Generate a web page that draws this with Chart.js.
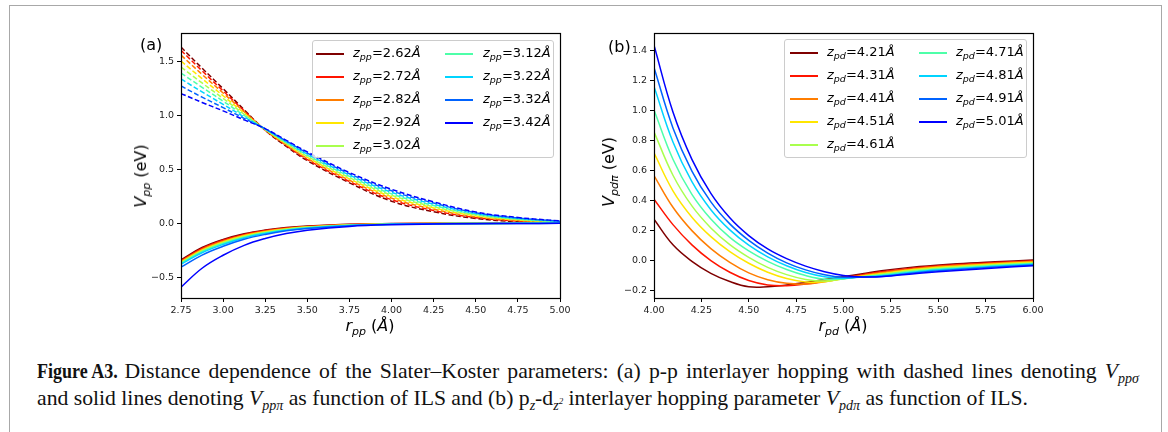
<!DOCTYPE html>
<html><head><meta charset="utf-8">
<script src="https://cdn.jsdelivr.net/npm/chart.js@4/dist/chart.umd.min.js"></script>
<style>
html,body{margin:0;padding:0;background:#fff;}
body{width:1168px;height:432px;position:relative;overflow:hidden;font-family:'DejaVu Sans',sans-serif;}
#frame{position:absolute;left:9px;top:5px;width:1153px;height:460px;border:1.5px solid #a8a8a8;box-sizing:border-box;}
.cv{position:absolute;}
.lab{position:absolute;font-size:16px;color:#000;white-space:nowrap;line-height:1;}
.lab i{font-style:italic;}
.sb{font-size:11px;position:relative;top:4px;font-style:italic;}
.legend{position:absolute;border:1px solid #cccccc;border-radius:3px;background:rgba(255,255,255,0.8);box-sizing:border-box;}
.item{position:absolute;height:16px;font-size:13px;white-space:nowrap;line-height:16px;color:#000;}
.item .s2{font-size:9.5px;position:relative;top:3px;font-style:italic;}
.sw{position:absolute;height:2px;width:28px;}
#cap{position:absolute;left:37px;top:360px;width:1102px;font-family:'Liberation Serif',serif;font-size:21.7px;line-height:22px;color:#111;}
#cap .l1{display:block;white-space:nowrap;text-align:justify;text-align-last:justify;}
#cap .l2{display:block;white-space:nowrap;}
#cap .cs{font-size:14px;position:relative;top:5px;font-style:italic;}
#cap .fb{display:inline-block;transform:scaleX(0.83);transform-origin:left center;margin-right:-18px;font-weight:bold;}
</style>
</head>
<body>
<div id="frame"></div>
<canvas id="c1" class="cv" width="470" height="330" style="left:110px;top:20px;width:470px;height:330px;"></canvas>
<canvas id="c2" class="cv" width="460" height="330" style="left:590px;top:20px;width:460px;height:330px;"></canvas>
<div id="overlay"></div>
<div id="cap"><span class="l1"><span class="fb">Figure A3.</span> Distance dependence of the Slater–Koster parameters: (a) p-p interlayer hopping with dashed lines denoting <i>V</i><span class="cs">ppσ</span></span><span class="l2">and solid lines denoting <i>V</i><span class="cs">ppπ</span> as function of ILS and (b) p<span class="cs">z</span>-d<span class="cs">z<sup style="font-size:9px">2</sup></span> interlayer hopping parameter <i>V</i><span class="cs">pdπ</span> as function of ILS.</span></div>
<script>
// ---------- data ----------
const colors = ['#7f0000','#ff1400','#ff7d00','#ffe600','#a9ff4d','#4dffa9','#00d4ff','#0063ff','#0000ff'];
const zppLabels = ['2.62','2.72','2.82','2.92','3.02','3.12','3.22','3.32','3.42'];
const zpdLabels = ['4.21','4.31','4.41','4.51','4.61','4.71','4.81','4.91','5.01'];

const rPP = [2.75, 2.875, 3.0, 3.125, 3.25, 3.375, 3.5, 3.75, 4.0, 4.25, 4.5, 4.75, 5.0];
const vppSigma = [
  [1.63, 1.435, 1.245, 1.050, 0.860, 0.712, 0.58, 0.375, 0.205, 0.107, 0.045, 0.016, 0.005],
  [1.60, 1.410, 1.225, 1.040, 0.862, 0.719, 0.59, 0.387, 0.219, 0.119, 0.053, 0.021, 0.007],
  [1.555, 1.377, 1.205, 1.032, 0.864, 0.726, 0.60, 0.399, 0.233, 0.131, 0.061, 0.026, 0.009],
  [1.50, 1.338, 1.180, 1.020, 0.866, 0.733, 0.61, 0.411, 0.247, 0.143, 0.069, 0.031, 0.011],
  [1.445, 1.298, 1.155, 1.009, 0.868, 0.740, 0.62, 0.423, 0.260, 0.154, 0.077, 0.036, 0.013],
  [1.39, 1.258, 1.130, 0.998, 0.870, 0.747, 0.63, 0.435, 0.273, 0.165, 0.084, 0.040, 0.015],
  [1.335, 1.215, 1.100, 0.984, 0.872, 0.754, 0.64, 0.447, 0.287, 0.177, 0.091, 0.045, 0.018],
  [1.27, 1.167, 1.070, 0.970, 0.874, 0.761, 0.65, 0.459, 0.301, 0.188, 0.098, 0.050, 0.020],
  [1.20, 1.118, 1.040, 0.957, 0.876, 0.768, 0.66, 0.470, 0.315, 0.199, 0.105, 0.054, 0.023]
];
const vppPi = [
  [-0.337, -0.223, -0.148, -0.096, -0.062, -0.039, -0.025, -0.008, -0.002, 0, 0, 0, 0],
  [-0.345, -0.232, -0.156, -0.102, -0.067, -0.043, -0.028, -0.010, -0.003, -0.001, 0, 0, 0],
  [-0.352, -0.240, -0.164, -0.109, -0.072, -0.047, -0.031, -0.012, -0.004, -0.001, 0, 0, 0],
  [-0.358, -0.248, -0.171, -0.115, -0.077, -0.051, -0.034, -0.014, -0.005, -0.002, -0.001, 0, 0],
  [-0.364, -0.255, -0.178, -0.121, -0.082, -0.055, -0.037, -0.016, -0.006, -0.002, -0.001, 0, 0],
  [-0.370, -0.262, -0.186, -0.128, -0.088, -0.059, -0.040, -0.018, -0.007, -0.003, -0.001, 0, 0],
  [-0.378, -0.272, -0.195, -0.135, -0.094, -0.064, -0.043, -0.019, -0.008, -0.003, -0.001, 0, 0],
  [-0.405, -0.293, -0.212, -0.147, -0.102, -0.069, -0.047, -0.021, -0.009, -0.004, -0.002, -0.001, 0],
  [-0.590, -0.415, -0.295, -0.203, -0.140, -0.094, -0.063, -0.028, -0.012, -0.006, -0.003, -0.001, 0]
];

const rPD = [4.0, 4.1, 4.2, 4.3, 4.4, 4.5, 4.6, 4.7, 4.8, 4.9, 5.0, 5.1, 5.2, 5.4, 5.6, 5.8, 6.0];
const vpdPi = [
  [0.276, 0.105, -0.005, -0.085, -0.140, -0.175, -0.175, -0.163, -0.146, -0.127, -0.107, -0.088, -0.068, -0.040, -0.021, -0.008, 0.003],
  [0.410, 0.240, 0.105, 0.000, -0.078, -0.133, -0.163, -0.168, -0.157, -0.137, -0.113, -0.094, -0.075, -0.046, -0.027, -0.013, -0.002],
  [0.568, 0.356, 0.200, 0.080, -0.012, -0.082, -0.128, -0.152, -0.157, -0.142, -0.118, -0.099, -0.081, -0.051, -0.032, -0.018, -0.006],
  [0.719, 0.466, 0.290, 0.160, 0.060, -0.018, -0.078, -0.120, -0.143, -0.142, -0.121, -0.103, -0.087, -0.057, -0.038, -0.023, -0.011],
  [0.860, 0.570, 0.365, 0.218, 0.107, 0.022, -0.045, -0.094, -0.126, -0.137, -0.122, -0.106, -0.092, -0.062, -0.043, -0.028, -0.016],
  [1.006, 0.677, 0.442, 0.277, 0.155, 0.065, -0.005, -0.060, -0.100, -0.124, -0.121, -0.108, -0.097, -0.068, -0.049, -0.033, -0.020],
  [1.163, 0.792, 0.527, 0.340, 0.205, 0.103, 0.025, -0.035, -0.080, -0.108, -0.119, -0.109, -0.101, -0.073, -0.054, -0.038, -0.025],
  [1.290, 0.886, 0.597, 0.392, 0.245, 0.135, 0.050, -0.015, -0.062, -0.095, -0.112, -0.110, -0.105, -0.079, -0.060, -0.043, -0.029],
  [1.438, 0.992, 0.676, 0.449, 0.286, 0.167, 0.078, 0.013, -0.037, -0.074, -0.099, -0.109, -0.108, -0.085, -0.066, -0.049, -0.034]
];

const xTicksA = [2.75, 3.0, 3.25, 3.5, 3.75, 4.0, 4.25, 4.5, 4.75, 5.0];
const yTicksA = [-0.5, 0.0, 0.5, 1.0, 1.5];
const xTicksB = [4.0, 4.25, 4.5, 4.75, 5.0, 5.25, 5.5, 5.75, 6.0];
const yTicksB = [-0.2, 0.0, 0.2, 0.4, 0.6, 0.8, 1.0, 1.2, 1.4];

// ---------- helpers ----------
Chart.defaults.font.family = "'DejaVu Sans', sans-serif";
Chart.defaults.color = '#222';

function fmt(v, d){ return v.toFixed(d).replace('-', '\u2212'); }

const framePlugin = {
  id: 'frame',
  afterDraw(chart){
    const a = chart.chartArea, c = chart.ctx;
    c.save(); c.strokeStyle = '#000'; c.lineWidth = 1.2;
    c.strokeRect(Math.round(a.left)+0.5, Math.round(a.top)+0.5, Math.round(a.right-a.left), Math.round(a.bottom-a.top));
    c.restore();
  }
};

function axis(ticks, dec, min, max, isX, size){
  return {
    type: 'linear', min: min, max: max,
    afterBuildTicks: s => { s.ticks = ticks.map(v => ({value: v})); },
    afterFit: s => { if (isX) s.height = size; else s.width = size; },
    ticks: { font: {size: 9.5}, color: '#222', padding: 3, maxRotation: 0, autoSkip: false,
             callback: v => fmt(v, dec) },
    grid: { display: true, drawOnChartArea: false, drawTicks: true, tickLength: 4, tickWidth: 1, color: '#000' },
    border: { display: true, color: '#000', width: 1 }
  };
}

function pts(xs, ys){ return xs.map((x, i) => ({x: x, y: ys[i]})); }

// ---------- panel (a) ----------
const dsA = [];
for (let i = 0; i < 9; i++) {
  dsA.push({ data: pts(rPP, vppSigma[i]), borderColor: colors[i], borderWidth: 1.5, borderDash: [5, 2.5],
             pointRadius: 0, tension: 0.4, fill: false, order: 20 - i });
  dsA.push({ data: pts(rPP, vppPi[i]), borderColor: colors[i], borderWidth: 1.5,
             pointRadius: 0, tension: 0.4, fill: false, order: 20 - i });
}
new Chart(document.getElementById('c1'), {
  type: 'line',
  data: { datasets: dsA },
  options: {
    responsive: false, animation: false, devicePixelRatio: 1,
    layout: { padding: { top: 13, right: 20, left: 0, bottom: 0 } },
    plugins: { legend: { display: false }, tooltip: { enabled: false } },
    scales: { x: axis(xTicksA, 2, 2.75, 5.0, true, 52), y: axis(yTicksA, 1, -0.69, 1.76, false, 71) }
  },
  plugins: [framePlugin]
});

// ---------- panel (b) ----------
const dsB = [];
for (let i = 0; i < 9; i++) {
  dsB.push({ data: pts(rPD, vpdPi[i]), borderColor: colors[i], borderWidth: 1.5,
             pointRadius: 0, tension: 0.4, fill: false, order: 20 - i });
}
new Chart(document.getElementById('c2'), {
  type: 'line',
  data: { datasets: dsB },
  options: {
    responsive: false, animation: false, devicePixelRatio: 1,
    layout: { padding: { top: 13, right: 17, left: 0, bottom: 0 } },
    plugins: { legend: { display: false }, tooltip: { enabled: false } },
    scales: { x: axis(xTicksB, 2, 4.0, 6.0, true, 52), y: axis(yTicksB, 1, -0.25, 1.52, false, 64) }
  },
  plugins: [framePlugin]
});

// ---------- text overlays ----------
const ov = document.getElementById('overlay');
function addLab(html, left, top, extra){
  const d = document.createElement('div'); d.className = 'lab'; d.innerHTML = html;
  d.style.left = left + 'px'; d.style.top = top + 'px';
  if (extra) Object.assign(d.style, extra);
  ov.appendChild(d); return d;
}
addLab('(a)', 140, 37);
addLab('(b)', 608, 39);
addLab('<i>r</i><span class="sb">pp</span> (<i>Å</i>)', 370, 318, {transform: 'translateX(-50%)'});
addLab('<i>r</i><span class="sb">pd</span> (<i>Å</i>)', 843, 318, {transform: 'translateX(-50%)'});
addLab('<i>V</i><span class="sb">pp</span> (eV)', 141, 176, {transform: 'translate(-50%,-50%) rotate(-90deg)'});
addLab('<i>V</i><span class="sb">pdπ</span> (eV)', 609, 172, {transform: 'translate(-50%,-50%) rotate(-90deg)'});

function legend(left, top, width, height, sub, labels, c1sw, c1tx, c2sw, c2tx){
  const box = document.createElement('div'); box.className = 'legend';
  Object.assign(box.style, {left: left + 'px', top: top + 'px', width: width + 'px', height: height + 'px'});
  const rows = [12.7, 35.7, 59, 82, 105];
  labels.forEach((lab, i) => {
    const col = i < 5 ? 0 : 1, r = i < 5 ? i : i - 5;
    const sw = document.createElement('div'); sw.className = 'sw';
    sw.style.left = (col ? c2sw : c1sw) + 'px'; sw.style.top = (rows[r] - 1) + 'px';
    sw.style.background = colors[i];
    box.appendChild(sw);
    const it = document.createElement('div'); it.className = 'item';
    it.style.left = (col ? c2tx : c1tx) + 'px'; it.style.top = (rows[r] - 9) + 'px';
    it.innerHTML = '<i>z</i><span class="s2">' + sub + '</span>=' + lab + '<i>Å</i>';
    box.appendChild(it);
  });
  ov.appendChild(box);
}
legend(312, 40, 242, 118, 'pp', zppLabels, 3, 40, 132, 170);
legend(784, 39, 243, 119, 'pd', zpdLabels, 5, 42, 134, 171);
</script>
</body></html>
